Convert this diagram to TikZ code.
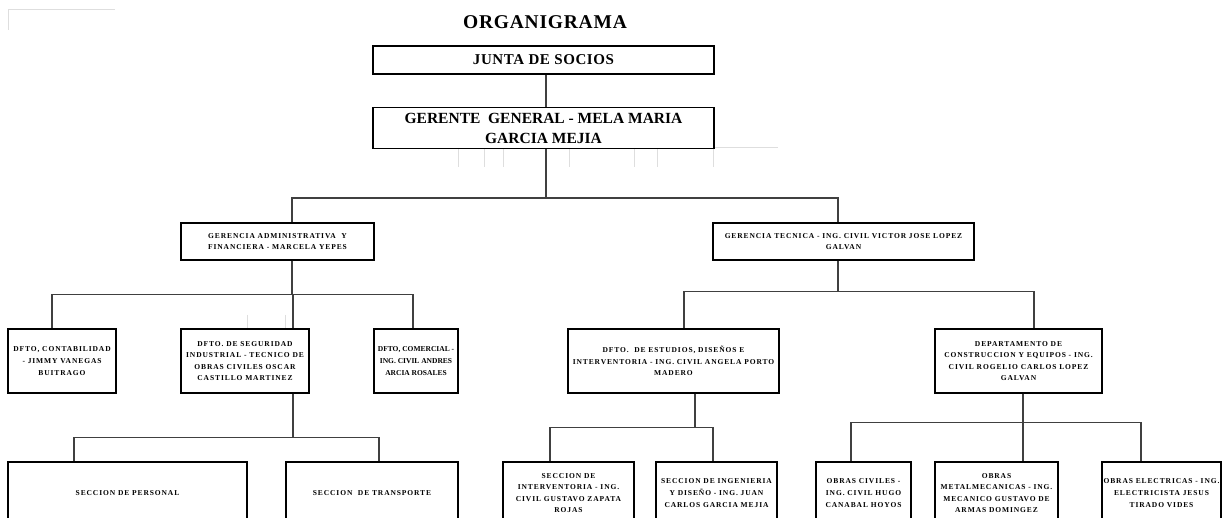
\documentclass[tikz,border=0pt]{standalone}
\usepackage{fontspec}
\setmainfont{Liberation Serif}
\newfontfamily\widebox[LetterSpace=12]{Liberation Serif}
\newfontfamily\widehead[LetterSpace=4]{Liberation Serif}
\begin{document}
\begin{tikzpicture}[x=1pt,y=-1pt,
  box/.style={draw=black,line width=1.3pt,rectangle,inner sep=0pt,align=center,
    font=\widebox\bfseries\fontsize{7.5}{11.6}\selectfont},
  narrowbox/.style={box,font=\bfseries\fontsize{7.5}{11.6}\selectfont},
  link/.style={draw=black!75,line width=1.4pt},
  faint/.style={draw=black!13,line width=0.8pt}]
\useasboundingbox (0,0) rectangle (1223,518);
\clip (0,0) rectangle (1223,518);
\fill[white] (0,0) rectangle (1223,518);

% light guide strokes
\draw[faint] (8,30) -- (8,9) -- (115,9);
\draw[faint] (714,147) -- (778,147);
\foreach \gx in {458,484,503,569,634,657,713}
  \draw[faint] (\gx,148) -- (\gx,167);
\foreach \gx in {247,285}
  \draw[faint] (\gx,315) -- (\gx,330);

% title
\node[font=\widehead\bfseries\fontsize{19.5}{22}\selectfont] (title) at (545,22) {ORGANIGRAMA};

% top levels
\node[box,minimum width=341pt,minimum height=28pt,font=\widehead\bfseries\fontsize{15}{17}\selectfont]
  (junta) at (543.5,60) {JUNTA DE SOCIOS};
\node[box,minimum width=341pt,minimum height=41pt,font=\bfseries\fontsize{15.5}{20}\selectfont]
  (gerente) at (543.5,128) {GERENTE \ GENERAL - MELA MARIA\\GARCIA MEJIA};

% second level
\node[box,minimum width=193pt,minimum height=37pt] (gadm) at (277.5,241.5)
  {GERENCIA ADMINISTRATIVA \ Y\\FINANCIERA - MARCELA YEPES};
\node[box,minimum width=261pt,minimum height=37pt] (gtec) at (843.5,241.5)
  {GERENCIA TECNICA - ING. CIVIL VICTOR JOSE LOPEZ\\GALVAN};

% departments
\node[box,minimum width=108pt,minimum height=64pt] (contab) at (62,361)
  {DFTO, CONTABILIDAD\\- JIMMY VANEGAS\\BUITRAGO};
\node[box,minimum width=128pt,minimum height=64pt] (segur) at (245,361)
  {DFTO. DE SEGURIDAD\\INDUSTRIAL - TECNICO DE\\OBRAS CIVILES OSCAR\\CASTILLO MARTINEZ};
\node[narrowbox,minimum width=84pt,minimum height=64pt] (comer) at (416,361)
  {DFTO, COMERCIAL -\\ING. CIVIL ANDRES\\ARCIA ROSALES};
\node[box,minimum width=211pt,minimum height=64pt] (estud) at (673.5,361)
  {DFTO. \ DE ESTUDIOS, DISEÑOS E\\INTERVENTORIA - ING. CIVIL ANGELA PORTO\\MADERO};
\node[box,minimum width=167pt,minimum height=64pt] (constr) at (1018.5,361)
  {DEPARTAMENTO DE\\CONSTRUCCION Y EQUIPOS - ING.\\CIVIL ROGELIO CARLOS LOPEZ\\GALVAN};

% sections
\node[box,minimum width=239pt,minimum height=62pt] (personal) at (127.5,493)
  {SECCION DE PERSONAL};
\node[box,minimum width=172pt,minimum height=62pt] (transp) at (372,493)
  {SECCION \ DE TRANSPORTE};
\node[box,minimum width=131pt,minimum height=62pt] (interv) at (568.5,493)
  {SECCION DE\\INTERVENTORIA - ING.\\CIVIL GUSTAVO ZAPATA\\ROJAS};
\node[box,minimum width=121pt,minimum height=62pt] (ingen) at (716.5,493)
  {SECCION DE INGENIERIA\\Y DISEÑO - ING. JUAN\\CARLOS GARCIA MEJIA};
\node[box,minimum width=95pt,minimum height=62pt] (ocivil) at (863.5,493)
  {OBRAS CIVILES -\\ING. CIVIL HUGO\\CANABAL HOYOS};
\node[box,minimum width=123pt,minimum height=62pt] (ometal) at (996.5,493)
  {OBRAS\\METALMECANICAS - ING.\\MECANICO GUSTAVO DE\\ARMAS DOMINGEZ};
\node[box,minimum width=119pt,minimum height=62pt] (oelec) at (1161.5,493)
  {OBRAS ELECTRICAS - ING.\\ELECTRICISTA JESUS\\TIRADO VIDES};

% connectors
\draw[link] ([xshift=2.5pt]junta.south) -- ([xshift=2.5pt]gerente.north);

\draw[link] ([xshift=2.5pt]gerente.south) -- ++(0,49) -| ([xshift=14.5pt]gadm.north);
\draw[link] ([xshift=2.5pt]gerente.south) -- ++(0,49) -| ([xshift=-5.5pt]gtec.north);

\draw[link] ([xshift=14.5pt]gadm.south) -- ++(0,34) -| ([xshift=-10pt]contab.north);
\draw[link] ([xshift=14.5pt]gadm.south) -- ++(0,34) -| ([xshift=48pt]segur.north);
\draw[link] ([xshift=14.5pt]gadm.south) -- ++(0,34) -| ([xshift=-3pt]comer.north);

\draw[link] ([xshift=-5.5pt]gtec.south) -- ++(0,31) -| ([xshift=10.5pt]estud.north);
\draw[link] ([xshift=-5.5pt]gtec.south) -- ++(0,31) -| ([xshift=15.5pt]constr.north);

\draw[link] ([xshift=48pt]segur.south) -- ++(0,44) -| ([xshift=-53.5pt]personal.north);
\draw[link] ([xshift=48pt]segur.south) -- ++(0,44) -| ([xshift=7pt]transp.north);

\draw[link] ([xshift=21.5pt]estud.south) -- ++(0,34) -| ([xshift=-18.5pt]interv.north);
\draw[link] ([xshift=21.5pt]estud.south) -- ++(0,34) -| ([xshift=-3.5pt]ingen.north);

\draw[link] ([xshift=4.5pt]constr.south) -- ++(0,29) -| ([xshift=-12.5pt]ocivil.north);
\draw[link] ([xshift=4.5pt]constr.south) -- ++(0,29) -| ([xshift=26.5pt]ometal.north);
\draw[link] ([xshift=4.5pt]constr.south) -- ++(0,29) -| ([xshift=-20.5pt]oelec.north);
\end{tikzpicture}
\end{document}
